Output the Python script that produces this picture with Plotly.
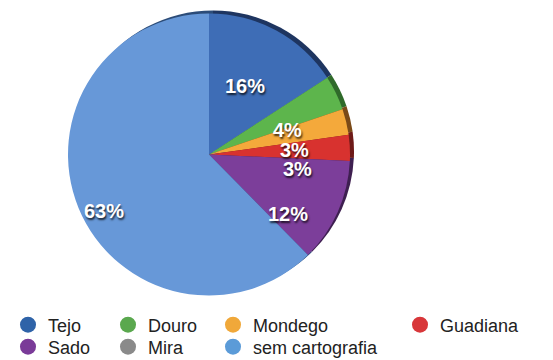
import math
import plotly.graph_objects as go

# Share of each river basin (%), in drawing order (clockwise from 12 o'clock)
labels = ["Tejo", "Douro", "Mondego", "Guadiana", "Sado", "Mira", "sem cartografia"]
values = [16, 4, 3, 3, 12, 0, 63]
slice_colors = ["#3e6db6", "#5db54c", "#f4a93b", "#d8322f", "#7c3e9a", "#8c8c8c", "#6798d8"]
rim_colors = ["#1e3560", "#2f6a2a", "#7a4a18", "#6e1a18", "#3e1f50", "#444444", "#2c4c78"]
legend_colors = ["#2f63a8", "#5aa84e", "#f0a83a", "#d8373a", "#7a3b98", "#8a8a8a", "#5b9bd8"]

# Legend entries: (label, column x in px, row centre y in px)
legend_layout = [
    ("Tejo", 8, 325), ("Douro", 108, 325), ("Mondego", 213, 325), ("Guadiana", 400, 325),
    ("Sado", 8, 347), ("Mira", 108, 347), ("sem cartografia", 213, 347),
]

W, H = 553, 360
FONT = "Liberation Sans, Arial, Helvetica, sans-serif"

# pie frame in px
PX0, PX1, PY0, PY1 = 68, 350, 13, 296
cx, cy = (PX0 + PX1) / 2, (PY0 + PY1) / 2
R = (PX1 - PX0) / 2
# apex of the tilted pie, where the slice labels radiate from
lx, ly = cx - 12, cy + 19


def dom(x0, x1, y0, y1):
    return dict(x=[x0 / W, x1 / W], y=[1 - y1 / H, 1 - y0 / H])


fig = go.Figure()

# darker copy slightly offset, showing as a rim on the upper-right edge
fig.add_trace(go.Pie(
    labels=labels, values=values, sort=False, direction="clockwise", rotation=0,
    marker=dict(colors=rim_colors, line=dict(width=0)),
    textinfo="none", hoverinfo="skip", showlegend=False,
    domain=dom(PX0 + 4, PX1 + 4, PY0 - 3, PY1 - 3),
))

fig.add_trace(go.Pie(
    labels=labels, values=values, sort=False, direction="clockwise", rotation=0,
    marker=dict(colors=slice_colors, line=dict(width=0)),
    textinfo="none", hoverinfo="label+value", showlegend=False,
    domain=dom(PX0, PX1, PY0, PY1),
))

# percentage labels at each slice's mid-angle
total = sum(values)
annotations = []
acc = 0.0
for lab, v in zip(labels, values):
    if v > 0:
        mid = (acc + v / 2) / total * 2 * math.pi
        rr = 0.71 * R
        x = lx + rr * math.sin(mid)
        y = ly - rr * math.cos(mid)
        annotations.append(dict(
            x=x / W, y=1 - y / H, xref="paper", yref="paper",
            xanchor="center", yanchor="middle",
            text=f"<b>{v}%</b>", showarrow=False,
            font=dict(family=FONT, size=20, color="white",
                      shadow="1px 2px 2px rgba(0,0,0,0.75)"),
        ))
    acc += v

color_of = dict(zip(labels, legend_colors))
legends = {}
for i, (name, xp, yp) in enumerate(legend_layout):
    lname = "legend" if i == 0 else f"legend{i + 1}"
    fig.add_trace(go.Scatter(
        x=[None], y=[None], mode="markers", name=name,
        marker=dict(size=16, color=color_of[name], symbol="circle"),
        legend=lname, showlegend=True,
    ))
    legends[lname] = dict(
        x=xp / W, y=1 - yp / H, xanchor="left", yanchor="middle",
        orientation="v", bgcolor="rgba(0,0,0,0)", borderwidth=0,
        font=dict(family=FONT, size=18, color="#222"),
        itemsizing="trace",
    )

fig.update_layout(
    width=W, height=H,
    margin=dict(l=0, r=0, t=0, b=0, autoexpand=False),
    paper_bgcolor="white", plot_bgcolor="white",
    xaxis=dict(visible=False), yaxis=dict(visible=False),
    annotations=annotations,
    **legends,
)

fig.write_html("out.html")
